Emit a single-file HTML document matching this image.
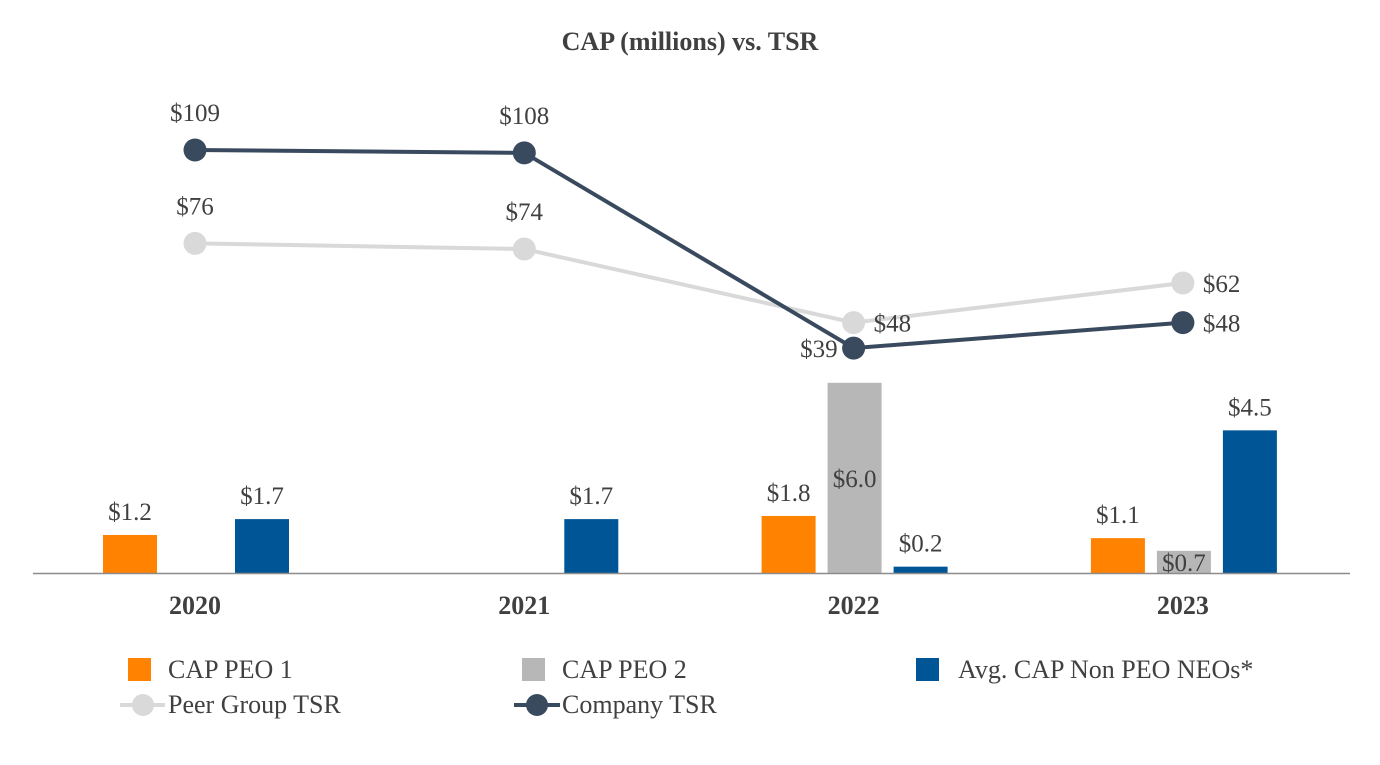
<!DOCTYPE html>
<html><head><meta charset="utf-8"><style>
body{margin:0;background:#fff}
svg text{font-family:"Liberation Serif",serif;fill:#404040}
</style></head><body>
<svg id="c" width="1380" height="760">
<text x="690" y="50" text-anchor="middle" font-size="26" font-weight="bold">CAP (millions) vs. TSR</text>
<g id="bars"></g><g id="lines"></g>
<line x1="33" y1="573.5" x2="1350" y2="573.5" stroke="#8c8c8c" stroke-width="1.5"/>
<g id="xt"></g>
<g>
<rect x="128" y="658" width="23" height="23" fill="#FF8200"/>
<text x="168" y="678" font-size="26">CAP PEO 1</text>
<rect x="522" y="658" width="23" height="23" fill="#B7B7B7"/>
<text x="562" y="678" font-size="26">CAP PEO 2</text>
<rect x="916" y="658" width="23" height="23" fill="#005596"/>
<text x="958" y="678" font-size="26">Avg. CAP Non PEO NEOs*</text>
<line x1="120" y1="705" x2="165" y2="705" stroke="#D9D9D9" stroke-width="4"/>
<circle cx="143" cy="705" r="11" fill="#D9D9D9"/>
<text x="168" y="713" font-size="26">Peer Group TSR</text>
<line x1="514" y1="705" x2="560" y2="705" stroke="#3A4A5E" stroke-width="4"/>
<circle cx="537" cy="705" r="11" fill="#3A4A5E"/>
<text x="562" y="713" font-size="26">Company TSR</text>
</g>
</svg>
<script>
const years=["2020","2021","2022","2023"];
const peo1=[1.2,null,1.8,1.1];
const peo2=[null,null,6.0,0.7];
const nonPeo=[1.7,1.7,0.2,4.5];
const peerTSR=[76,74,48,62];
const companyTSR=[109,108,39,48];
const NS="http://www.w3.org/2000/svg";
const xC=i=>195+i*329.3;
const yB=v=>573-v*31.7;
const yL=v=>150+(109-v)*2.83;
function mk(t,a,p){const e=document.createElementNS(NS,t);for(const k in a)e.setAttribute(k,a[k]);p.appendChild(e);return e;}
const bars=document.getElementById('bars'),lines=document.getElementById('lines'),xt=document.getElementById('xt');
years.forEach((y,i)=>{
 const t=mk('text',{x:xC(i),y:614,'text-anchor':'middle','font-size':26,'font-weight':'bold'},xt);t.textContent=y;
 
 
});
const series=[[peo1,'#FF8200',-65,'peo1'],[peo2,'#B7B7B7',1,'peo2'],[nonPeo,'#005596',67,'nonpeo']];
series.forEach(([arr,col,off,nm])=>{
 arr.forEach((v,i)=>{
  if(v==null)return;
  const x=xC(i)+off-27,top=yB(v);
  const r=mk('rect',{x:x,y:top,width:54,height:573-top,fill:col},bars);
  
  
  const ly=nm==='peo2'?(top+573)/2+9:top-15;
  const t=mk('text',{x:x+27,y:ly,'text-anchor':'middle','font-size':25},bars);t.textContent='$'+v.toFixed(1);
  
  
 });
});
function drawLine(arr,col,nm,pos){
 const p=mk('polyline',{points:arr.map((v,i)=>xC(i)+','+yL(v)).join(' '),fill:'none',stroke:col,'stroke-width':4},lines);
 
 
 arr.forEach((v,i)=>{
  const c=mk('circle',{cx:xC(i),cy:yL(v),r:11.5,fill:col},lines);
  
  
  let x=xC(i),y=yL(v)-29,a='middle';
  if(pos[i]==='r'){x=xC(i)+20;y=yL(v)+9;a='start';}
  if(pos[i]==='l'){x=xC(i)-16;y=yL(v)+9;a='end';}
  const t=mk('text',{x:x,y:y,'text-anchor':a,'font-size':25},lines);t.textContent='$'+v;
  
  
 });
}
drawLine(peerTSR,'#D9D9D9','peer',['t','t','r','r']);
drawLine(companyTSR,'#3A4A5E','company',['t','t','l','r']);
</script>
</body></html>
